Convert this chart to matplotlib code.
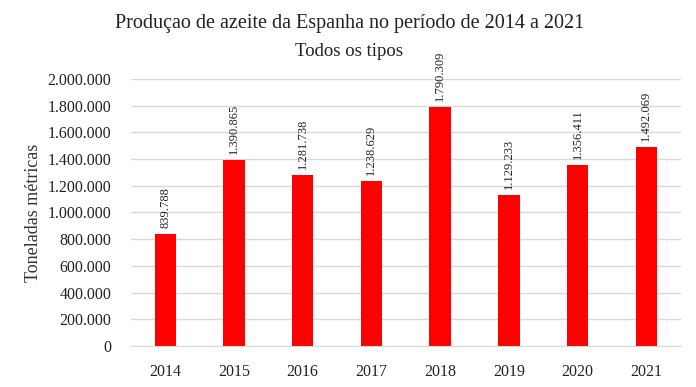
import matplotlib
matplotlib.use("Agg")
import matplotlib.pyplot as plt
from matplotlib.ticker import FuncFormatter

# Produção de azeite, Espanha (toneladas métricas)
years = ["2014", "2015", "2016", "2017", "2018", "2019", "2020", "2021"]
producao = [839788, 1390865, 1281738, 1238629, 1790309, 1129233, 1356411, 1492069]
yticks = [0, 200000, 400000, 600000, 800000, 1000000, 1200000, 1400000,
          1600000, 1800000, 2000000]

plt.rcParams['font.family'] = ['Liberation Serif', 'DejaVu Serif']


def pontos(v, pos=None):
    return f"{int(v):,}".replace(",", ".")


fig = plt.figure(figsize=(6.96, 3.87), dpi=100)
ax = fig.add_axes([0.188, 0.106, 0.790, 0.690])

x = range(len(years))
ax.bar(x, producao, width=0.31, color='#ff0000', zorder=2)

for i, v in enumerate(producao):
    ax.text(i, v + 45000, pontos(v), rotation=90, ha='center', va='bottom',
            fontsize=9, color='#222222')

ax.set_ylim(0, 2000000)
ax.set_xlim(-0.5, len(years) - 0.5)
ax.set_yticks(yticks)
ax.yaxis.set_major_formatter(FuncFormatter(pontos))
ax.set_xticks(list(x))
ax.set_xticklabels(years)
ax.grid(axis='y', color='#d9d9d9', linewidth=1, zorder=0)
for s in ['top', 'right', 'left']:
    ax.spines[s].set_visible(False)
ax.spines['bottom'].set_color('#d9d9d9')
ax.tick_params(axis='both', length=0, labelsize=11.5, colors='#222222')
ax.tick_params(axis='x', pad=13)
ax.tick_params(axis='y', pad=14)
ax.set_ylabel("Toneladas métricas", fontsize=13, color='#333333', labelpad=4)

fig.text(0.503, 0.94, "Produçao de azeite da Espanha no período de 2014 a 2021",
         ha='center', va='center', fontsize=14.5, color='#222222')
fig.text(0.501, 0.868, "Todos os tipos", ha='center', va='center',
         fontsize=13.5, color='#222222')

fig.savefig("out.png", dpi=100, facecolor='white')
